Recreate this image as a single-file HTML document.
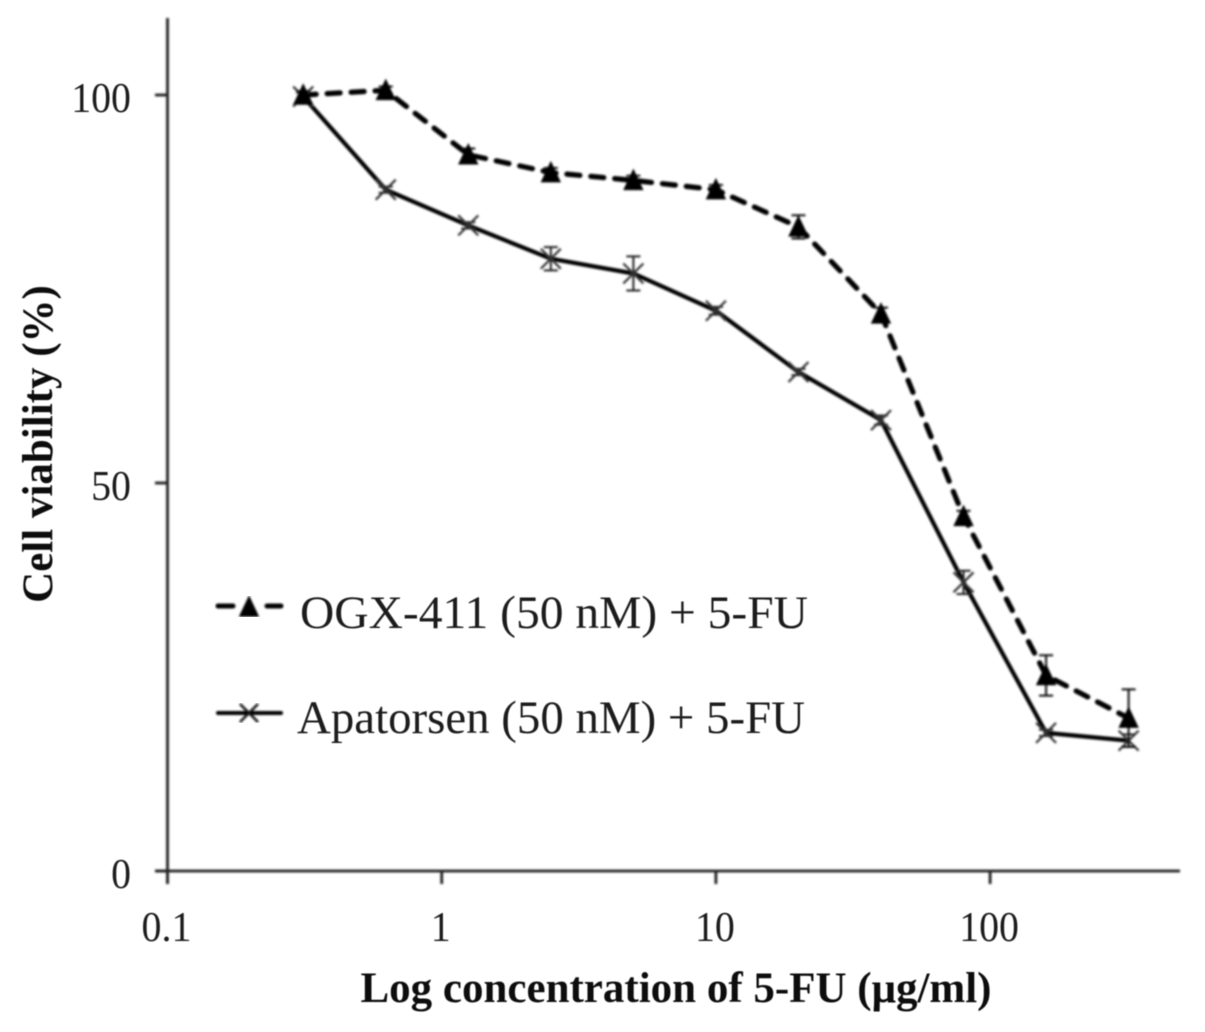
<!DOCTYPE html>
<html lang="en">
<head>
<meta charset="utf-8">
<title>Cell viability chart</title>
<style>
html,body{margin:0;padding:0;background:#fff;}
svg{display:block;}
text{font-family:"Liberation Serif",serif;fill:#1c1c1c;}
</style>
</head>
<body>
<svg id="chart" width="1205" height="1032" viewBox="0 0 1205 1032" xmlns="http://www.w3.org/2000/svg">
  <defs>
    <filter id="soft" x="-5%" y="-5%" width="110%" height="110%"><feGaussianBlur stdDeviation="0.95"/></filter>
    <filter id="softText" x="-5%" y="-5%" width="110%" height="110%"><feGaussianBlur stdDeviation="0.6"/></filter>
  </defs>
  <rect width="1205" height="1032" fill="#fff"/>
  <g id="axes" filter="url(#soft)"></g>
  <g id="marks" filter="url(#soft)"></g>
  <g id="labels" filter="url(#softText)"></g>
  <text x="52" y="444" transform="rotate(-90 52 444)" text-anchor="middle" font-size="43" font-weight="bold" style="fill:#111" filter="url(#softText)">Cell viability (%)</text>
  <text x="676" y="1002" text-anchor="middle" font-size="43" font-weight="bold" style="fill:#111" filter="url(#softText)">Log concentration of 5-FU (μg/ml)</text>
  <g>
    <g>
      <g filter="url(#soft)">
        <line x1="218" y1="606" x2="233" y2="606" stroke="#000" stroke-width="5" stroke-linecap="round"/>
        <line x1="267" y1="606" x2="281" y2="606" stroke="#000" stroke-width="5" stroke-linecap="round"/>
        <path d="M249 597 L258 616 L240 616 Z" fill="#000" stroke="#000" stroke-width="1.5"/>
      </g>
      <text x="300" y="628" font-size="47" textLength="508" lengthAdjust="spacingAndGlyphs" filter="url(#softText)">OGX-411 (50 nM) + 5-FU</text>
    </g>
    <g>
      <g filter="url(#soft)">
        <line x1="218" y1="713" x2="281" y2="713" stroke="#000" stroke-width="4" stroke-linecap="round"/>
        <path d="M240 704 L258 722 M258 704 L240 722" stroke="#111" stroke-width="2.4" fill="none"/>
      </g>
      <text x="297" y="733" font-size="47" textLength="508" lengthAdjust="spacingAndGlyphs" filter="url(#softText)">Apatorsen (50 nM) + 5-FU</text>
    </g>
  </g>
</svg>
<script>
const concentrations = [0.3125, 0.625, 1.25, 2.5, 5, 10, 20, 40, 80, 160, 320];
const ogxValues = [100, 100.6, 92.3, 90, 89, 87.8, 83, 71.8, 45.7, 25.2, 19.7];
const ogxErrors = [0.5, 0.5, 0.8, 0.6, 0.6, 0.6, 1.5, 0.8, 0.7, 2.6, 3.7];
const apatorsenValues = [99.8, 87.8, 83.2, 78.9, 77, 72.2, 64.3, 58.1, 37.2, 17.8, 16.8];
const apatorsenErrors = [0.5, 0.4, 0.4, 1.5, 2.2, 0.5, 0.4, 0.6, 1.5, 0.4, 0.8];
const xTicks = [0.1, 1, 10, 100];
const xTickLabels = ['0.1', '1', '10', '100'];
const yTicks = [0, 50, 100];
const yTickLabels = ['0', '50', '100'];

const NS = 'http://www.w3.org/2000/svg';
const xScale = function (v) { return 167.5 + (Math.log10(v) + 1) * 274.2; };
const yScale = function (v) { return 871 - v * 7.76; };
const axes = document.getElementById('axes');
const marks = document.getElementById('marks');
const labels = document.getElementById('labels');

function make(parent, tag, attrs) {
  const el = document.createElementNS(NS, tag);
  for (const k in attrs) el.setAttribute(k, attrs[k]);
  parent.appendChild(el);
  return el;
}

function narrow(label) {
  label.setAttribute('textLength', (label.getComputedTextLength() * 0.95).toFixed(1));
  label.setAttribute('lengthAdjust', 'spacingAndGlyphs');
}

const yAxisLine = make(axes, 'line', {x1: 167.5, y1: 18, x2: 167.5, y2: 884, stroke: '#222', 'stroke-width': 2.8});


const xAxisLine = make(axes, 'line', {x1: 155, y1: 871, x2: 1180, y2: 871, stroke: '#222', 'stroke-width': 2.8});



xTicks.forEach(function (t, i) {
  const x = xScale(t);
  const tick = make(axes, 'line', {x1: x, y1: 871, x2: x, y2: 884, stroke: '#222', 'stroke-width': 2.8});
  
  
  const label = make(labels, 'text', {x: x - 1, y: 941, 'text-anchor': 'middle', 'font-size': 42});
  label.textContent = xTickLabels[i];
  
  
  narrow(label);
});

yTicks.forEach(function (t, i) {
  const y = yScale(t);
  const tick = make(axes, 'line', {x1: 155, y1: y, x2: 167.5, y2: y, stroke: '#222', 'stroke-width': 2.8});
  
  
  const label = make(labels, 'text', {x: 131, y: y + 17, 'text-anchor': 'end', 'font-size': 42});
  label.textContent = yTickLabels[i];
  
  
  narrow(label);
});

function linePoints(values) {
  return values.map(function (v, i) {
    return xScale(concentrations[i]).toFixed(1) + ',' + yScale(v).toFixed(1);
  }).join(' ');
}

function errorBar(cx, v, e, color) {
  const top = yScale(v + e);
  const bottom = yScale(v - e);
  const d = 'M' + cx + ' ' + top + ' V' + bottom + ' M' + (cx - 7) + ' ' + top + ' H' + (cx + 7) + ' M' + (cx - 7) + ' ' + bottom + ' H' + (cx + 7);
  const bar = make(marks, 'path', {d: d, stroke: color, 'stroke-width': 2, fill: 'none'});
  
  
}

const solidLine = make(marks, 'polyline', {points: linePoints(apatorsenValues), fill: 'none', stroke: '#000', 'stroke-width': 4.2, 'stroke-linejoin': 'round'});


const dashedLine = make(marks, 'polyline', {points: linePoints(ogxValues), fill: 'none', stroke: '#000', 'stroke-width': 5.2, 'stroke-dasharray': '13 11', 'stroke-linecap': 'round'});



apatorsenValues.forEach(function (v, i) {
  const cx = xScale(concentrations[i]);
  const cy = yScale(v);
  errorBar(cx, v, apatorsenErrors[i], '#222');
  const d = 'M' + (cx - 10) + ' ' + (cy - 10) + ' L' + (cx + 10) + ' ' + (cy + 10) + ' M' + (cx + 10) + ' ' + (cy - 10) + ' L' + (cx - 10) + ' ' + (cy + 10);
  const cross = make(marks, 'path', {d: d, stroke: '#333', 'stroke-width': 2.2, fill: 'none'});
  
  
});

ogxValues.forEach(function (v, i) {
  const cx = xScale(concentrations[i]);
  const cy = yScale(v);
  errorBar(cx, v, ogxErrors[i], '#111');
  const d = 'M' + cx + ' ' + (cy - 10) + ' L' + (cx + 9) + ' ' + (cy + 9) + ' L' + (cx - 9) + ' ' + (cy + 9) + ' Z';
  const tri = make(marks, 'path', {d: d, fill: '#000', stroke: '#000', 'stroke-width': 1.5});
  
  
});
</script>
</body>
</html>
